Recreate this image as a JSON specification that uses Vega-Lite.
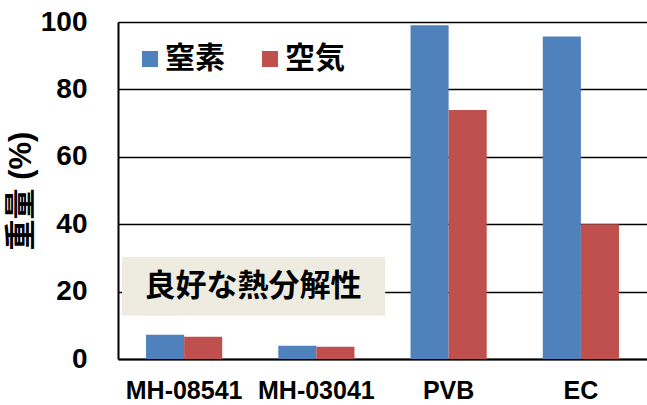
{
  "$schema": "https://vega.github.io/schema/vega-lite/v6.json",
  "width": 529,
  "height": 337,
  "autosize": {"type": "none"},
  "padding": {"left": 118, "top": 22, "right": 0, "bottom": 46},
  "background": "white",
  "config": {
    "view": {"stroke": null},
    "font": "Liberation Sans, Noto Sans CJK JP",
    "axis": {"labelFont": "Liberation Sans, Noto Sans CJK JP", "titleFont": "Liberation Sans, Noto Sans CJK JP"},
    "axisY": {
      "tickCount": 6, "ticks": false, "grid": true, "gridColor": "black", "gridWidth": 1.5, "gridOpacity": 1,
      "domainColor": "black", "domainWidth": 2,
      "labelFontSize": 28, "labelFontWeight": "bold", "labelColor": "black", "labelPadding": 31,
      "titleFontSize": 31, "titleFontWeight": "bold", "titleColor": "black", "titlePadding": 3
    }
  },
  "datasets": {
    "bars": [
      {"sample": "MH-08541", "atmosphere": "窒素", "weight": 7.2},
      {"sample": "MH-08541", "atmosphere": "空気", "weight": 6.6},
      {"sample": "MH-03041", "atmosphere": "窒素", "weight": 3.9},
      {"sample": "MH-03041", "atmosphere": "空気", "weight": 3.6},
      {"sample": "PVB", "atmosphere": "窒素", "weight": 99.0},
      {"sample": "PVB", "atmosphere": "空気", "weight": 73.9},
      {"sample": "EC", "atmosphere": "窒素", "weight": 95.7},
      {"sample": "EC", "atmosphere": "空気", "weight": 40.0}
    ],
    "note": [
      {"x0": 0.03, "x1": 2.02, "y0": 12.8, "y1": 30.3, "xc": 1.02, "yc": 21.5, "label": "良好な熱分解性"}
    ]
  },
  "layer": [
    {
      "data": {"name": "bars"},
      "mark": {"type": "bar"},
      "encoding": {
        "x": {
          "field": "sample", "type": "nominal",
          "sort": ["MH-08541", "MH-03041", "PVB", "EC"],
          "scale": {"paddingInner": 0.424, "paddingOuter": 0.212},
          "axis": {
            "title": null, "labelAngle": 0, "ticks": false, "grid": false,
            "domainColor": "black", "domainWidth": 2,
            "labelFontSize": 25, "labelFontWeight": "bold", "labelColor": "black",
            "labelPadding": 19
          }
        },
        "xOffset": {"field": "atmosphere", "type": "nominal", "sort": ["窒素", "空気"], "scale": {"paddingInner": 0, "paddingOuter": 0}},
        "y": {
          "field": "weight", "type": "quantitative", "title": "重量 (%)",
          "scale": {"domain": [0, 100], "nice": false}
        },
        "color": {
          "field": "atmosphere", "type": "nominal",
          "sort": ["窒素", "空気"],
          "scale": {"domain": ["窒素", "空気"], "range": ["#4F81BD", "#C0504D"]},
          "legend": {
            "title": null, "orient": "none", "direction": "horizontal",
            "legendX": 17, "legendY": 22, "padding": 0,
            "symbolType": "square", "symbolSize": 256, "symbolStrokeWidth": 0, "symbolOpacity": 1,
            "labelFontSize": 30, "labelFontWeight": "bold", "labelColor": "black",
            "labelOffset": 0, "columnPadding": 30
          }
        }
      }
    },
    {
      "data": {"name": "note"},
      "mark": {"type": "rect", "color": "#EEECE1"},
      "encoding": {
        "x": {"field": "x0", "type": "quantitative", "scale": {"domain": [0, 4], "nice": false}, "axis": null},
        "x2": {"field": "x1"},
        "y": {"field": "y0", "type": "quantitative", "title": "重量 (%)", "scale": {"domain": [0, 100], "nice": false}},
        "y2": {"field": "y1"}
      }
    },
    {
      "data": {"name": "note"},
      "mark": {"type": "text", "fontSize": 31, "fontWeight": "bold", "color": "black", "baseline": "middle", "align": "center"},
      "encoding": {
        "x": {"field": "xc", "type": "quantitative", "scale": {"domain": [0, 4], "nice": false}, "axis": null},
        "y": {"field": "yc", "type": "quantitative", "title": "重量 (%)", "scale": {"domain": [0, 100], "nice": false}},
        "text": {"field": "label"}
      }
    }
  ],
  "resolve": {"scale": {"x": "independent"}, "axis": {"x": "independent"}}
}
